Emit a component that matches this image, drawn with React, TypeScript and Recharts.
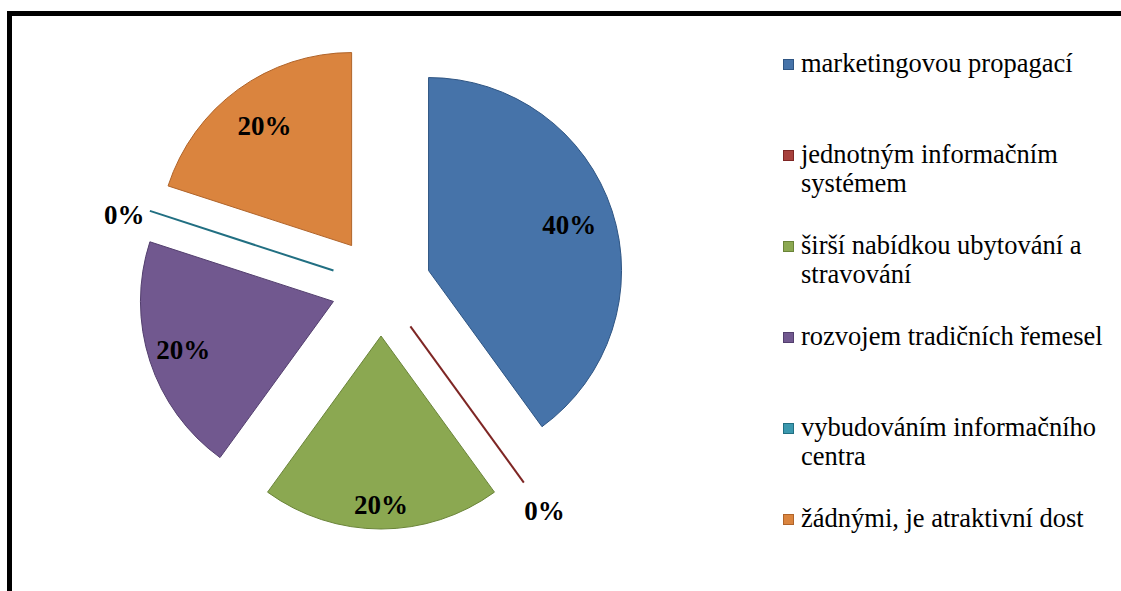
import React from 'react';
import { PieChart, Pie, Cell, Legend } from 'recharts';

// hodnoty z grafu (v %)
const categories = [
  'marketingovou propagací',
  'jednotným informačním systémem',
  'širší nabídkou ubytování a stravování',
  'rozvojem tradičních řemesel',
  'vybudováním informačního centra',
  'žádnými, je atraktivní dost',
];
const values = [40, 0, 20, 20, 0, 20];

const fills = ['#4673A9', '#A7403C', '#8BA851', '#71588F', '#3B98AE', '#DA843E'];
const strokes = ['#2F5583', '#7E2624', '#6A8438', '#533F6E', '#216F82', '#B0642A'];

// rozložení
const CX = 369;
const CY = 270;
const R = 193;
const EXPLODE = 50;
const labelRadius = [148, 228, 169, 158, 220, 148];
const labelNudgeY = [0, 0, 0, 0, 12, 0];
const FONT = "'Liberation Serif', 'Times New Roman', serif";

const data = categories.map((name, i) => ({ name, value: values[i] }));
const total = values.reduce((a, b) => a + b, 0);

// posun každé výseče ve směru jejího středu
const offsets = values.map((v, i) => {
  const before = values.slice(0, i).reduce((a, b) => a + b, 0);
  const mid = 90 - (360 * (before + v / 2)) / total;
  const rad = (mid * Math.PI) / 180;
  return { dx: EXPLODE * Math.cos(rad), dy: -EXPLODE * Math.sin(rad) };
});

const renderLabel = (props: any) => {
  const { cx, cy, midAngle, outerRadius, value, index } = props;
  const rad = (-midAngle * Math.PI) / 180;
  const ox = cx + offsets[index].dx;
  const oy = cy + offsets[index].dy;
  const lr = labelRadius[index];
  const tx = ox + lr * Math.cos(rad);
  const ty = oy + lr * Math.sin(rad) + labelNudgeY[index];
  return (
    <g key={`lbl-${index}`}>
      {value === 0 && (
        <line
          x1={ox}
          y1={oy}
          x2={ox + outerRadius * Math.cos(rad)}
          y2={oy + outerRadius * Math.sin(rad)}
          stroke={strokes[index]}
          strokeWidth={2}
        />
      )}
      <text
        x={tx}
        y={ty}
        textAnchor="middle"
        dominantBaseline="central"
        fontFamily={FONT}
        fontWeight="bold"
        fontSize={27}
        fill="#000"
      >
        {`${Math.round((value / total) * 100)}%`}
      </text>
    </g>
  );
};

const renderLegend = () => (
  <div style={{ fontFamily: FONT, fontSize: 26.5, color: '#000' }}>
    {categories.map((name, i) => (
      <div key={name} style={{ display: 'flex', alignItems: 'flex-start', height: 91 }}>
        <div
          style={{
            width: 9,
            height: 9,
            marginTop: 10,
            marginRight: 7,
            background: fills[i],
            border: `1px solid ${strokes[i]}`,
            flexShrink: 0,
          }}
        />
        <div style={{ width: 322, lineHeight: '29px' }}>{name}</div>
      </div>
    ))}
  </div>
);

export default function App() {
  return (
    <div style={{ position: 'fixed', left: 0, top: 0, width: 1121, height: 591, overflow: 'hidden', background: '#fff' }}>
      <div
        style={{
          position: 'absolute',
          left: 7,
          top: 11,
          width: 1200,
          height: 700,
          borderLeft: '5px solid #000',
          borderTop: '5px solid #000',
        }}
      >
        <PieChart width={1109} height={575} margin={{ top: 0, right: 0, bottom: 0, left: 0 }}>
          <Pie
            data={data}
            dataKey="value"
            nameKey="name"
            cx={CX}
            cy={CY}
            outerRadius={R}
            startAngle={90}
            endAngle={-270}
            label={renderLabel}
            labelLine={false}
            isAnimationActive={false}
          >
            {data.map((d, i) => (
              <Cell
                key={d.name}
                fill={fills[i]}
                stroke={strokes[i]}
                strokeWidth={1}
                transform={`translate(${offsets[i].dx}, ${offsets[i].dy})`}
              />
            ))}
          </Pie>
          <Legend
            layout="vertical"
            align="right"
            verticalAlign="top"
            content={renderLegend}
            wrapperStyle={{ left: 771, top: 33, width: 345 }}
          />
        </PieChart>
      </div>
    </div>
  );
}
